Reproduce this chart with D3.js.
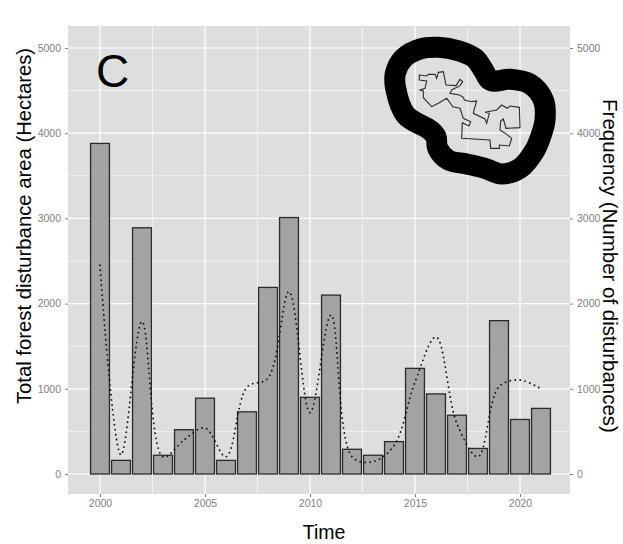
<!DOCTYPE html>
<html><head><meta charset="utf-8">
<script src="https://cdn.jsdelivr.net/npm/d3@7"></script>
<style>html,body{margin:0;padding:0;background:#fff}svg{display:block}text{font-family:"Liberation Sans",Arial,sans-serif}</style>
</head><body><svg id="c" width="623" height="544"></svg>
<script>
const years=[2000,2001,2002,2003,2004,2005,2006,2007,2008,2009,2010,2011,2012,2013,2014,2015,2016,2017,2018,2019,2020,2021];
const areaValues=[3880,160,2890,220,520,890,160,730,2190,3010,900,2100,290,220,380,1240,940,690,300,1800,640,770];
const frequencyValues=[2450,225,1790,200,400,540,203,1020,1125,2140,720,1866,203,145,332,1080,1608,590,203,1025,1103,1000];
const xTicks=[2000,2005,2010,2015,2020];
const xMinor=[2002.5,2007.5,2012.5,2017.5];
const yTicks=[0,1000,2000,3000,4000,5000];
const yMinor=[500,1500,2500,3500,4500];
const bufferRing=[[77,205],[76,160],[100,115],[150,87],[205,82],[265,92],[315,115],[340,150],[362,182],[420,178],[480,192],[520,240],[525,300],[512,350],[492,395],[450,445],[395,462],[345,445],[290,432],[235,420],[203,385],[198,350],[180,330],[107,285]];
const siteOutline=[[148,165],[170,168],[175,163],[195,163],[200,175],[205,157],[220,155],[228,195],[258,197],[270,178],[278,185],[270,197],[245,210],[240,220],[268,225],[280,232],[283,240],[305,245],[320,243],[312,270],[310,280],[345,297],[350,310],[358,280],[345,277],[380,270],[395,255],[412,265],[420,258],[448,262],[450,323],[408,325],[400,297],[392,303],[390,330],[410,343],[425,355],[418,378],[388,375],[388,385],[362,385],[360,360],[275,355],[277,308],[297,318],[302,305],[280,295],[270,265],[248,260],[245,255],[230,235],[205,250],[185,260],[160,233],[160,213],[150,210],[165,205],[170,183],[148,180]];

const svg=d3.select("#c");
const L=68,R=570,T=26,B=494;
const x=d3.scaleLinear().domain([2000,2020]).range([100,520]);
const y=d3.scaleLinear().domain([0,5000]).range([474,48]);
const gray="#7f7f7f";
svg.append("rect").attr("x",L).attr("y",T).attr("width",R-L).attr("height",B-T).attr("fill","#dedede");
const grid=svg.append("g").attr("stroke","#fff");
yMinor.forEach(v=>grid.append("line").attr("x1",L).attr("x2",R).attr("y1",y(v)).attr("y2",y(v)).attr("stroke-width",.6));
xMinor.forEach(v=>grid.append("line").attr("y1",T).attr("y2",B).attr("x1",x(v)).attr("x2",x(v)).attr("stroke-width",.6));
yTicks.forEach(v=>grid.append("line").attr("x1",L).attr("x2",R).attr("y1",y(v)).attr("y2",y(v)).attr("stroke-width",1.2));
xTicks.forEach(v=>grid.append("line").attr("y1",T).attr("y2",B).attr("x1",x(v)).attr("x2",x(v)).attr("stroke-width",1.2));

const bw=x(2000.9)-x(2000);
svg.append("g").selectAll("rect").data(years).join("rect")
 .attr("x",d=>x(d)-bw/2).attr("width",bw)
 .attr("y",(d,i)=>y(areaValues[i])).attr("height",(d,i)=>y(0)-y(areaValues[i]))
 .attr("fill","#a3a3a3").attr("stroke","#2a2a2a").attr("stroke-width",1.3);

svg.append("path").datum(years.map((d,i)=>[d,frequencyValues[i]]))
 .attr("fill","none").attr("stroke","#111").attr("stroke-width",1.9)
 .attr("stroke-linecap","round").attr("stroke-dasharray","0 5")
 .attr("d",d3.line().x(d=>x(d[0])).y(d=>y(d[1])).curve(d3.curveCatmullRom.alpha(0.5)));

function axis(g,gen){g.call(gen);g.select(".domain").remove();g.selectAll("line").attr("stroke",gray);g.selectAll("text").attr("fill","#808080").attr("font-size",10.5);}
axis(svg.append("g").attr("transform",`translate(0,${B})`),d3.axisBottom(x).tickValues(xTicks).tickFormat(d3.format("d")).tickSize(3).tickPadding(3));
axis(svg.append("g").attr("transform",`translate(${L},0)`),d3.axisLeft(y).tickValues(yTicks).tickFormat(d3.format("d")).tickSize(3).tickPadding(4));
axis(svg.append("g").attr("transform",`translate(${R},0)`),d3.axisRight(y).tickValues(yTicks).tickFormat(d3.format("d")).tickSize(3).tickPadding(4));

const ix=d3.scaleLinear().domain([0,600]).range([370,570]);
const iy=d3.scaleLinear().domain([0,540]).range([20,200]);
svg.append("path").datum(bufferRing).attr("fill","none").attr("stroke","#000").attr("stroke-width",21)
 .attr("d",d3.line().x(d=>ix(d[0])).y(d=>iy(d[1])).curve(d3.curveCatmullRomClosed.alpha(0.5)));
svg.append("path").datum(siteOutline).attr("fill","none").attr("stroke","#2a2a2a").attr("stroke-width",1.1)
 .attr("d",d3.line().x(d=>ix(d[0])).y(d=>iy(d[1])).curve(d3.curveLinearClosed));

svg.append("text").attr("x",96).attr("y",87).attr("font-size",46).attr("fill","#000").text("C");
svg.append("text").attr("x",324).attr("y",539).attr("text-anchor","middle").attr("font-size",19.5).attr("fill","#000").text("Time");
svg.append("text").attr("transform","translate(31,226) rotate(-90)").attr("text-anchor","middle").attr("font-size",20.3).attr("fill","#000").text("Total forest disturbance area (Hectares)");
svg.append("text").attr("transform","translate(603,266) rotate(90)").attr("text-anchor","middle").attr("font-size",20.5).attr("fill","#000").text("Frequency (Number of disturbances)");
</script></body></html>
